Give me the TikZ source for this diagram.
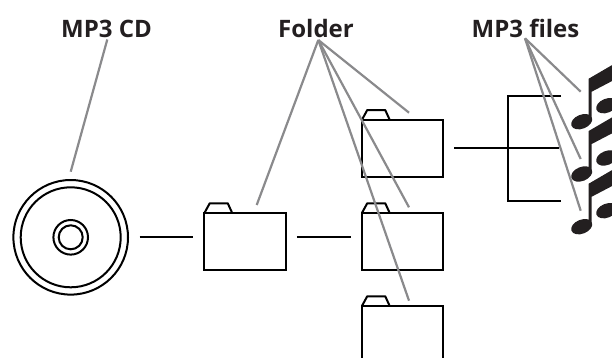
\documentclass[tikz,border=0pt]{standalone}
\usepackage{fontspec}
\setmainfont{Open Sans}
\usepackage{xcolor}
\usetikzlibrary{positioning, calc}
\definecolor{leadergray}{HTML}{8A8A8C}
\definecolor{labelblack}{HTML}{231F20}
\newcommand{\notegroup}[1]{%
  \fill[labelblack, shift={(#1)}]
    (0,0) ellipse [x radius=11, y radius=7, rotate=22]
    (25,-16) ellipse [x radius=11, y radius=7, rotate=22]
    (7,0) -- (7,-43) -- (31,-57) -- (31,-41) -- (10,-30) -- (10,0) -- cycle;
}
\begin{document}
\begin{tikzpicture}[x=1pt, y=-1pt,
  folder/.style={rectangle, draw, line width=2pt, minimum width=81.5pt, minimum height=57.5pt, inner sep=0pt, outer sep=0pt},
  tab/.style={draw, line width=2pt, line join=round},
  disc/.style={circle, draw, line width=2pt, inner sep=0pt, outer sep=0pt},
  wire/.style={draw, line width=2pt},
  leader/.style={draw=leadergray, line width=2.2pt},
  heading/.style={font=\bfseries\fontsize{24}{26}\selectfont, text=labelblack, inner sep=0pt}
]
  \useasboundingbox[clip] (0,0) rectangle (612,358);

  % labels
  \node[heading] (cdlabel) at (106.5,28.5) {MP3 CD};
  \node[heading] (folderlabel) at (316,28.5) {Folder};
  \node[heading] (fileslabel) at (525.5,28.5) {MP3 files};

  % disc
  \node[disc, minimum size=114.6pt] (cd) at (70.7,237.3) {};
  \node[disc, minimum size=100pt] (cdrim) at (70.7,237.3) {};
  \node[disc, minimum size=34.6pt] (cdhub) at (70.7,237.3) {};
  \node[disc, minimum size=24pt] (cdhole) at (70.7,237.3) {};

  % folders
  \node[folder] (rootdir) at (245.2,241.7) {};
  \node[folder] (subdira) at (402.7,148.5) {};
  \node[folder] (subdirb) at (402.7,241.7) {};
  \node[folder] (subdirc) at (402.7,334.7) {};
  \foreach \dirname in {rootdir, subdira, subdirb, subdirc}
    \draw[tab] (\dirname.north west) -- ++(5.3,-9.7) -- ++(18,0) -- ++(4.4,9.7);

  % tree lines
  \coordinate (treemid) at (507.5,148.5);
  \coordinate (treetop) at (507.5,96);
  \coordinate (treebot) at (507.5,201);
  \coordinate (treeupper) at (561,96);
  \coordinate (treecenter) at (559,148.5);
  \coordinate (treelower) at (561,201);
  \draw[wire, shorten <=11.5pt, shorten >=11pt] (cd.east) -- (rootdir.west |- cd.east);
  \draw[wire, shorten <=11pt, shorten >=11pt] (rootdir.east |- cd.east) -- (subdirb.west |- cd.east);
  \draw[wire, shorten <=11pt] (subdira.east) -- (treecenter);
  \draw[wire] (treeupper) -- (treetop) -- (treebot) -- (treelower);

  % notes
  \notegroup{581.7,121.7}
  \notegroup{581.7,174}
  \notegroup{581.7,226.7}

  % leaders
  \coordinate (cdfoot) at (107.3,39.5);
  \coordinate (cdtip) at (70.7,171.7);
  \coordinate (folderfoot) at (318.3,40);
  \coordinate (rootdirtip) at (256.7,205);
  \coordinate (subdiratip) at (409,112.7);
  \coordinate (subdirbtip) at (409,207.3);
  \coordinate (subdirctip) at (409,300.7);
  \coordinate (filesfoot) at (525,38.3);
  \coordinate (noteatip) at (580.7,91.7);
  \coordinate (notebtip) at (580.7,159);
  \coordinate (noteCtip) at (580.7,210.7);
  \draw[leader] (cdfoot) -- (cdtip);
  \foreach \tipname in {rootdirtip, subdiratip, subdirbtip, subdirctip}
    \draw[leader] (folderfoot) -- (\tipname);
  \foreach \tipname in {noteatip, notebtip, noteCtip}
    \draw[leader] (filesfoot) -- (\tipname);
\end{tikzpicture}
\end{document}
